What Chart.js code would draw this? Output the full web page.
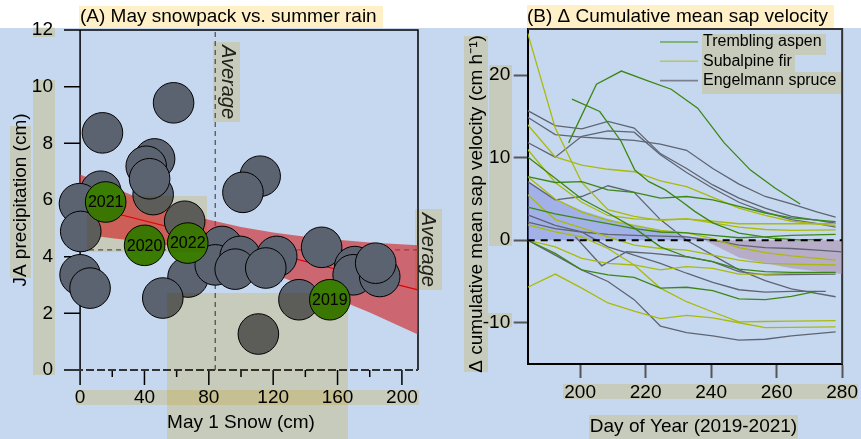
<!DOCTYPE html>
<html>
<head>
<meta charset="utf-8">
<script src="https://cdn.jsdelivr.net/npm/chart.js@4.4.1/dist/chart.umd.min.js"></script>
<style>
  body { margin: 0; width: 861px; height: 439px; overflow: hidden; background: #fff; position: relative; }
  canvas { position: absolute; top: 0; }
  #chartA { left: 0; }
  #chartB { left: 440px; }
</style>
</head>
<body>
<canvas id="chartA" width="440" height="439"></canvas>
<canvas id="chartB" width="421" height="439"></canvas>
<script>
/* ================= DATA : panel A ================= */
const snowCm = [58.1, 13.9, 46.3, 41.1, 45.4, 43.2, 111.9, 101.2, 12.8, -0.4, 0.4, 0, 6.2, 65, 88.2, 67.1, 84, 99.5, 122.2, 96.4, 115.4, 51.4, 150.1, 136, 110.8, 170.7, 169.7, 186.2, 183.7];
const rainCm = [9.43, 8.37, 7.45, 7.19, 6.19, 6.75, 6.84, 6.27, 6.31, 5.87, 4.89, 3.36, 2.89, 5.25, 4.36, 3.28, 3.71, 4.01, 4.01, 3.56, 3.6, 2.54, 4.33, 2.48, 1.27, 3.65, 3.36, 3.30, 3.77];
const yearNames = ["2021", "2020", "2022", "2019"];
const yearSnow = [15.9, 40.1, 66.9, 155.2];
const yearRain = [5.93, 4.40, 4.48, 2.48];
const fitSnow = [0, 210];
const fitRain = [5.84, 2.83];
const bandSnow = [0, 20, 40, 60, 80, 100, 120, 140, 160, 180, 210];
const bandUpper = [6.9, 6.45, 6.0, 5.6, 5.3, 5.05, 4.85, 4.7, 4.6, 4.5, 4.4];
const bandLower = [4.8, 4.65, 4.52, 4.36, 4.08, 3.77, 3.39, 2.96, 2.5, 2.03, 1.25];
const avgSnow = 84;
const avgRain = 4.24;
const snowTicks = [0, 40, 80, 120, 160, 200];
const rainTicks = [0, 2, 4, 6, 8, 10, 12];

/* ================= DATA : panel B ([day, delta]) ================= */
const aspen1 = [[196.5,11.8],[205,18.9],[212.6,20.5],[220.7,19.3],[227.8,18.3],[235.9,16.0],[244,11.8],[252,8.5],[259.6,6.3],[267.2,4.4]];
const aspen2 = [[197.5,17.1],[206,15.6],[212.5,12.0],[216.7,8.5],[221,7.1],[226,6.1],[231,4.7],[235,3.5],[240.5,2.1],[248.5,0.85],[258.6,0.25],[267,0.05],[274,0.1]];
const aspen3 = [[184,10.1],[192.4,7.5],[200.5,5.0],[208.5,3.3],[216.5,1.5],[224.5,-0.8],[232.5,-2.0],[240.5,-2.6],[248.5,-3.5],[256.5,-3.8],[264.5,-3.9],[278,-3.9]];
const aspen4 = [[184,7.7],[192.4,7.0],[200.5,7.1],[208.5,6.1],[216.5,5.8],[224.5,5.1],[232.5,5.3],[240.5,4.9],[248.5,4.1],[256.5,3.3],[264.5,2.7],[278,2.26]];
const aspen5 = [[184,0],[192.4,-1.6],[200.5,-3.6],[208.5,-4.2],[216.5,-4.5],[224.5,-5.8],[232.5,-5.7],[240.5,-6.1],[248.5,-7.1],[256.5,-7.2],[264.5,-6.8],[272,-6.2]];
const aspen6 = [[184,4.0],[192.4,3.2],[200.5,2.6],[208.5,2.0],[216.5,1.4],[224.5,1.0],[232.5,0.9],[240.5,0.6],[248.5,0.3],[256.5,0.4],[264.5,0.6],[278,0.7]];

const fir1 = [[184,25.1],[192.4,13.6],[200.5,7.0],[208.5,3.7],[216.5,2.9],[224.5,2.4],[232.5,2.6],[240.5,2.1],[248.5,1.6],[256.5,1.3],[264.5,1.2],[278,1.25]];
const fir2 = [[184,14.0],[192.4,10.1],[200.5,9.1],[208.5,8.6],[216.5,8.3],[224.5,7.2],[232.5,6.5],[240.5,5.2],[248.5,3.9],[256.5,3.0],[264.5,2.3],[278,1.74]];
const fir3 = [[184,11.0],[192.4,7.0],[200.5,4.6],[208.5,3.0],[216.5,2.6],[224.5,2.5],[232.5,2.6],[240.5,2.3],[248.5,2.0],[256.5,2.0],[264.5,2.0],[278,2.0]];
const fir4 = [[184,7.7],[192.4,5.0],[200.5,3.4],[208.5,2.4],[216.5,1.8],[224.5,1.2],[232.5,0.9],[240.5,0.2],[248.5,-0.9],[256.5,-1.5],[264.5,-1.9],[278,-2.4]];
const fir5 = [[184,1.86],[192.4,1.0],[200.5,0.4],[208.5,-1.0],[216.5,-3.0],[224.5,-5.8],[232.5,-7.45],[240.5,-8.7],[248.5,-9.9],[256.5,-9.85],[264.5,-9.8],[278,-9.75]];
const fir6 = [[184,-5.7],[192.4,-4.1],[200.5,-5.8],[208.5,-7.6],[216.5,-8.6],[224.5,-9.5],[232.5,-9.1],[240.5,-9.4],[248.5,-10.0],[256.5,-10.6],[264.5,-10.55],[278,-10.5]];
const fir7 = [[184,0],[192.4,-0.8],[200.5,-2.2],[208.5,-2.8],[216.5,-3.0],[224.5,-3.6],[232.5,-3.2],[240.5,-3.4],[248.5,-4.1],[256.5,-4.1],[264.5,-4.0],[278,-4.0]];
const fir8 = [[184,5.5],[192.4,2.5],[200.5,1.5],[208.5,0.4],[216.5,-0.6],[224.5,-1.0],[232.5,-1.2],[240.5,-1.8],[248.5,-2.4],[256.5,-2.8],[264.5,-2.9],[278,-3.0]];

const spruce1 = [[184,15.7],[192.4,13.9],[200.5,13.5],[208.5,14.4],[216.5,13.6],[224.5,10.5],[232.5,8.7],[240.5,6.7],[248.5,5.1],[256.5,3.9],[264.5,2.9],[272.5,2.4],[278,2.06]];
const spruce2 = [[184,14.9],[192.4,12.8],[200.5,12.5],[208.5,12.3],[216.5,12.1],[224.5,11.65],[232.5,10.9],[240.5,8.7],[248.5,6.8],[256.5,5.3],[264.5,4.4],[272.5,3.4],[278,2.8]];
const spruce3 = [[184,11.85],[192.4,10.07],[200.5,12.6],[208.5,13.26],[216.5,13.1],[224.5,10.35],[232.5,8.2],[240.5,6.3],[248.5,4.6],[256.5,3.4],[264.5,2.5],[272.5,2.0],[278,1.6]];
const spruce4 = [[184,7.1],[192.4,4.9],[200.5,5.3],[208.5,6.6],[216.5,5.8],[224.5,2.5],[232.5,0.0],[240.5,-1.8],[248.5,-3.6],[256.5,-4.9],[264.5,-5.9],[278,-6.85]];
const spruce5 = [[184,3.07],[192.4,1.8],[200.5,1.0],[208.5,-0.8],[216.5,-1.8],[224.5,-2.8],[232.5,-4.0],[240.5,-5.1],[248.5,-6.0],[256.5,-6.3],[264.5,-6.2],[275,-6.2]];
const spruce6 = [[184,0],[192.4,-1.8],[200.5,-3.6],[208.5,-5.0],[216.5,-7.2],[224.5,-10.4],[232.5,-11.2],[240.5,-11.6],[248.5,-12.1],[256.5,-12.0],[264.5,-11.6],[278,-11.1]];
const spruce7 = [[198.5,0.44],[206.6,-3.1],[214.2,-1.4],[222,-1.6],[232.3,-2.0],[240.4,-2.6],[248.5,-3.8],[256.5,-4.2],[278,-4.1]];
const spruce8 = [[184,2.2],[192.4,1.4],[200.5,1.0],[208.5,0.7],[216.5,0.6],[224.5,0.5],[232.5,0.4],[240.5,0.0],[248.5,-0.6],[256.5,-0.9],[264.5,-1.0],[272.5,-1.2],[280,-1.4]];

const wetRibbon = [[184,7.0],[192.4,5.0],[200.5,3.6],[208.5,2.6],[216.5,1.8],[224.5,1.2],[232.5,0.5],[239,0]];
const dryRibbon = [[238,0],[248.5,-2.1],[256.5,-2.8],[264.5,-3.4],[272.5,-3.8],[280,-4.1]];
const dayTicks = [200, 220, 240, 260, 280];
const sapTicks = [-10, 0, 10, 20];

/* ================= LOOK ================= */
const FONT = "'Liberation Sans', Arial, Helvetica, sans-serif";
Chart.defaults.font.family = FONT;
Chart.defaults.color = "#000";
const BLUE = "#c6d8f0";
const GREEN_A = "rgb(60,135,20)", FIR = "rgb(170,186,10)", SPRUCE = "rgb(95,100,115)";

// highlight boxes behind texts, page coords [x0, y0, x1, y1]
const boxes = [
  [79,6,383,28], [33,27,55,37], [33,80,55,375], [10,126,31,278], [87,196,207,252],
  [167,293,348,439], [76,390,419,405], [213,42,240,122], [415,209,442,290],
  [527,5,834,28], [464,36,488,372], [489,65,512,246], [488,313,512,327],
  [563,384,858,399], [589,415,798,439], [702,34,826,55], [702,55,795,72], [702,72,841,94]
];

const pts = (xs, ys) => xs.map((x, i) => ({ x, y: ys[i] }));
const pairs = arr => arr.map(([x, y]) => ({ x, y }));

function backgroundPlugin() {
  return {
    id: "bg",
    beforeDraw(chart) {
      const c = chart.ctx;
      c.save();
      c.fillStyle = "#fff";
      c.fillRect(0, 0, chart.width, 28);
      c.fillStyle = BLUE;
      c.fillRect(0, 28, chart.width, chart.height - 28);
      c.restore();
    }
  };
}

function boxPlugin(offsetX) {
  return {
    id: "boxes",
    afterDraw(chart) {
      const c = chart.ctx;
      c.save();
      c.globalCompositeOperation = "multiply";
      c.fillStyle = "#fff0c7";
      boxes.forEach(([x0, y0, x1, y1]) => c.fillRect(x0 - offsetX, y0, x1 - x0, y1 - y0));
      c.restore();
    }
  };
}

/* ================= PANEL A ================= */
const frameA = {
  id: "frameA",
  beforeDatasetsDraw(chart) {
    const { ctx: c, chartArea: a, scales: { x, y } } = chart;
    c.save();
    c.strokeStyle = "#000";
    c.lineWidth = 1.5;
    c.beginPath();
    c.moveTo(a.left, a.top); c.lineTo(a.right, a.top); c.lineTo(a.right, a.bottom);
    const x0 = x.getPixelForValue(0);
    c.moveTo(x0, a.top); c.lineTo(x0, a.bottom + 15);
    rainTicks.forEach(v => { const py = y.getPixelForValue(v); c.moveTo(a.left, py); c.lineTo(x0, py); });
    snowTicks.forEach(v => { const px = x.getPixelForValue(v); c.moveTo(px, a.bottom); c.lineTo(px, a.bottom + 15); });
    for (let i = 0; i < snowTicks.length - 1; i++) {
      const px = x.getPixelForValue((snowTicks[i] + snowTicks[i + 1]) / 2);
      c.moveTo(px, a.bottom); c.lineTo(px, a.bottom + 7);
    }
    c.stroke();
    c.beginPath();
    c.strokeStyle = "#333";
    c.lineWidth = 2;
    c.setLineDash([8, 3]);
    c.moveTo(a.left, a.bottom); c.lineTo(a.right, a.bottom);
    c.stroke();
    c.restore();
  },
  afterDatasetsDraw(chart) {
    const { ctx: c, scales: { x, y } } = chart;
    const meta = chart.getDatasetMeta(0);
    c.save();
    c.fillStyle = "#000";
    c.font = "16px " + FONT;
    c.textAlign = "center";
    c.textBaseline = "middle";
    meta.data.forEach((el, i) => c.fillText(yearNames[i], el.x, el.y + 1));
    c.font = "italic 20px " + FONT;
    c.fillStyle = "#222";
    c.textBaseline = "middle";
    c.save();
    c.translate(x.getPixelForValue(avgSnow) + 12, 82);
    c.rotate(Math.PI / 2);
    c.fillText("Average", 0, 0);
    c.restore();
    c.save();
    c.translate(428, y.getPixelForValue(avgRain));
    c.rotate(Math.PI / 2);
    c.fillText("Average", 0, 0);
    c.restore();
    c.font = "19px " + FONT;
    c.fillStyle = "#000";
    c.textAlign = "left";
    c.textBaseline = "alphabetic";
    c.fillText("(A) May snowpack vs. summer rain", 80, 22);
    c.restore();
  }
};

new Chart(document.getElementById("chartA"), {
  type: "scatter",
  data: {
    datasets: [
      { data: pts(yearSnow, yearRain), backgroundColor: "#3b7d02", borderColor: "#000", borderWidth: 1, pointRadius: 20.3, clip: false, order: 0 },
      { data: pts(snowCm, rainCm), backgroundColor: "#5c6370", borderColor: "#000", borderWidth: 1, pointRadius: 20.3, clip: false, order: 1 },
      { data: pts(fitSnow, fitRain), showLine: true, borderColor: "#e00000", borderWidth: 1.2, pointRadius: 0, order: 2 },
      { data: pts(bandSnow, bandUpper), showLine: true, borderWidth: 0, borderColor: "rgba(0,0,0,0)", pointRadius: 0, fill: "+1", backgroundColor: "rgba(207,41,43,0.65)", order: 3 },
      { data: pts(bandSnow, bandLower), showLine: true, borderWidth: 0, borderColor: "rgba(0,0,0,0)", pointRadius: 0, order: 4 },
      { data: pts([avgSnow, avgSnow], [0, 12]), showLine: true, borderColor: "#555", borderWidth: 1.3, borderDash: [5, 4], pointRadius: 0, order: 5 },
      { data: pts([0, 210], [avgRain, avgRain]), showLine: true, borderColor: "#555", borderWidth: 1.3, borderDash: [5, 4], pointRadius: 0, order: 5 }
    ]
  },
  options: {
    responsive: false,
    animation: false,
    events: [],
    layout: { padding: { top: 30, right: 22, left: 0, bottom: 0 } },
    plugins: { legend: { display: false }, tooltip: { enabled: false } },
    scales: {
      x: {
        type: "linear", min: -10, max: 210,
        afterBuildTicks: s => { s.ticks = snowTicks.map(v => ({ value: v })); },
        afterFit: s => { s.height = 69; },
        grid: { display: false, drawTicks: false },
        border: { display: false },
        ticks: { font: { size: 19 }, color: "#000", padding: 16, maxRotation: 0, autoSkip: false },
        title: { display: true, text: "May 1 Snow (cm)", font: { size: 19 }, color: "#000", padding: { top: 0, bottom: 5 } }
      },
      y: {
        type: "linear", min: 0, max: 12,
        afterBuildTicks: s => { s.ticks = rainTicks.map(v => ({ value: v })); },
        afterFit: s => { s.width = 64; },
        grid: { display: false, drawTicks: false },
        border: { display: false },
        ticks: { font: { size: 19 }, color: "#000", padding: 11 },
        title: { display: true, text: "JA precipitation (cm)", font: { size: 19 }, color: "#000", padding: { top: 9, bottom: 0 } }
      }
    }
  },
  plugins: [backgroundPlugin(), frameA, boxPlugin(0)]
});

/* ================= PANEL B ================= */
const legendItems = [
  ["Trembling aspen", "rgb(106,168,80)"],
  ["Subalpine fir", "rgb(184,196,92)"],
  ["Engelmann spruce", "rgb(123,128,144)"]
];

const frameB = {
  id: "frameB",
  beforeDatasetsDraw(chart) {
    const { ctx: c, chartArea: a } = chart;
    c.save();
    c.strokeStyle = "#333";
    c.lineWidth = 2;
    c.beginPath();
    c.moveTo(a.left, a.top); c.lineTo(a.right, a.top); c.lineTo(a.right, a.bottom);
    c.stroke();
    c.restore();
  },
  afterDatasetsDraw(chart) {
    const { ctx: c } = chart;
    c.save();
    c.font = "16px " + FONT;
    c.textBaseline = "middle";
    c.textAlign = "left";
    legendItems.forEach(([label, color], i) => {
      const yy = 42 + i * 19.3;
      c.strokeStyle = color;
      c.lineWidth = 1.6;
      c.beginPath();
      c.moveTo(220, yy); c.lineTo(258, yy);
      c.stroke();
      c.fillStyle = "#000";
      c.fillText(label, 263, yy);
    });
    c.font = "19px " + FONT;
    c.textBaseline = "alphabetic";
    c.fillText("(B) \u0394 Cumulative mean sap velocity", 87, 22);
    c.textAlign = "center";
    c.textBaseline = "middle";
    c.fillText("Day of Year (2019-2021)", 253.5, 427);
    c.save();
    c.translate(36.5, 204);
    c.rotate(-Math.PI / 2);
    c.fillText("\u0394 cumulative mean sap velocity (cm h\u207B\u00B9)", 0, 0);
    c.restore();
    c.restore();
  }
};

const lineSet = (arr, color, order) => ({
  data: pairs(arr), showLine: true, borderColor: color, borderWidth: 1.3,
  pointRadius: 0, fill: false, order
});

new Chart(document.getElementById("chartB"), {
  type: "scatter",
  data: {
    datasets: [
      { data: pts([184, 280], [0, 0]), showLine: true, borderColor: "#000", borderWidth: 1.8, borderDash: [7, 6], pointRadius: 0, order: 0 },
      lineSet(spruce1, SPRUCE, 3), lineSet(spruce2, SPRUCE, 3), lineSet(spruce3, SPRUCE, 3), lineSet(spruce4, SPRUCE, 3),
      lineSet(spruce5, SPRUCE, 3), lineSet(spruce6, SPRUCE, 3), lineSet(spruce7, SPRUCE, 3), lineSet(spruce8, SPRUCE, 3),
      lineSet(fir1, FIR, 2), lineSet(fir2, FIR, 2), lineSet(fir3, FIR, 2), lineSet(fir4, FIR, 2),
      lineSet(fir5, FIR, 2), lineSet(fir6, FIR, 2), lineSet(fir7, FIR, 2), lineSet(fir8, FIR, 2),
      lineSet(aspen1, GREEN_A, 1), lineSet(aspen2, GREEN_A, 1), lineSet(aspen3, GREEN_A, 1),
      lineSet(aspen4, GREEN_A, 1), lineSet(aspen5, GREEN_A, 1), lineSet(aspen6, GREEN_A, 1),
      { data: pairs(wetRibbon), showLine: true, borderWidth: 0, borderColor: "rgba(0,0,0,0)", pointRadius: 0, fill: "origin", backgroundColor: "rgba(120,130,225,0.45)", order: 10 },
      { data: pairs(dryRibbon), showLine: true, borderWidth: 0, borderColor: "rgba(0,0,0,0)", pointRadius: 0, fill: "origin", backgroundColor: "rgba(170,130,160,0.5)", order: 10 }
    ]
  },
  options: {
    responsive: false,
    animation: false,
    events: [],
    layout: { padding: { top: 29, right: 18, left: 0, bottom: 0 } },
    plugins: { legend: { display: false }, tooltip: { enabled: false } },
    scales: {
      x: {
        type: "linear", min: 184, max: 280,
        afterBuildTicks: s => { s.ticks = dayTicks.map(v => ({ value: v })); },
        afterFit: s => { s.height = 75; },
        grid: { display: true, drawOnChartArea: false, drawTicks: true, tickLength: 14, tickColor: "#555", tickWidth: 2 },
        border: { display: true, color: "#000", width: 2 },
        ticks: { font: { size: 19 }, color: "#000", padding: 3, maxRotation: 0, autoSkip: false }
      },
      y: {
        type: "linear", min: -15, max: 25.6,
        afterBuildTicks: s => { s.ticks = sapTicks.map(v => ({ value: v })); },
        afterFit: s => { s.width = 87.7; },
        grid: { display: true, drawOnChartArea: false, drawTicks: true, tickLength: 14, tickColor: "#555", tickWidth: 2 },
        border: { display: true, color: "#000", width: 2 },
        ticks: { font: { size: 19 }, color: "#000", padding: 3.5 }
      }
    }
  },
  plugins: [backgroundPlugin(), frameB, boxPlugin(440)]
});
</script>
</body>
</html>
